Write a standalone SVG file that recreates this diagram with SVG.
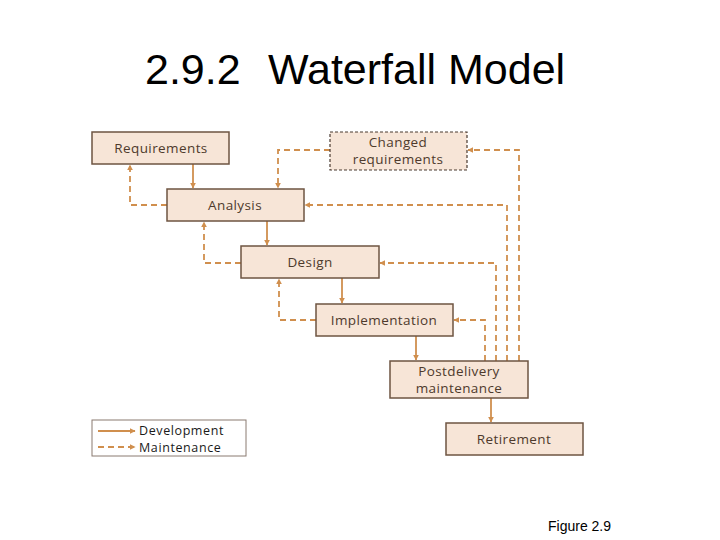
<svg xmlns="http://www.w3.org/2000/svg" width="720" height="540" viewBox="0 0 720 540">
<style>
.box{fill:#f7e5d7;stroke:#6e5442;stroke-width:1.5}
.dbox{fill:#f7e5d7;stroke:#4a3a30;stroke-width:1.2;stroke-dasharray:3 2}
.lbl{font-family:"Open Sans","Lato",sans-serif;font-size:13.5px;letter-spacing:0.4px;fill:#4e3a2c;text-anchor:middle}
.leg{font-family:"Open Sans","Lato",sans-serif;font-size:12.5px;letter-spacing:0.6px;fill:#1a1a1a}
.dev{fill:none;stroke:#d08f4e;stroke-width:1.8;marker-end:url(#ah)}
.mnt{fill:none;stroke:#d08f4e;stroke-width:1.8;stroke-dasharray:6 4;marker-end:url(#ah)}
</style>
<defs>
<marker id="ah" viewBox="0 0 10 10" refX="9" refY="5" markerWidth="6" markerHeight="6" markerUnits="userSpaceOnUse" orient="auto">
<path d="M0,0 L10,5 L0,10 z" fill="#d08f4e"/>
</marker>
</defs>
<rect width="720" height="540" fill="#fff"/>
<text x="145" y="84" font-family="Liberation Sans,Arial,sans-serif" font-size="43" fill="#000">2.9.2</text>
<text x="268" y="84" font-family="Liberation Sans,Arial,sans-serif" font-size="43" fill="#000">Waterfall Model</text>
<g id="connectors">
<path class="dev" d="M193,164 V188"/>
<path class="dev" d="M267,221 V245"/>
<path class="dev" d="M342,278 V303"/>
<path class="dev" d="M416,336 V360"/>
<path class="dev" d="M491,398 V422"/>
<path class="mnt" d="M167,205 H130 V165"/>
<path class="mnt" d="M241,263 H204 V222"/>
<path class="mnt" d="M316,320 H279 V279"/>
<path class="mnt" d="M330,150 H278 V188"/>
<path class="mnt" d="M485,361 V320 H454"/>
<path class="mnt" d="M496,361 V263 H380"/>
<path class="mnt" d="M507,361 V205 H305"/>
<path class="mnt" d="M519,361 V150 H468"/>
</g>
<g id="requirements"><rect class="box" x="92" y="132" width="137" height="32"/><text class="lbl" x="161" y="153">Requirements</text></g>
<g id="changed"><rect class="dbox" x="330" y="132" width="137" height="38"/><text class="lbl" x="398" y="147">Changed</text><text class="lbl" x="398" y="164">requirements</text></g>
<g id="analysis"><rect class="box" x="167" y="189" width="137" height="32"/><text class="lbl" x="235" y="210">Analysis</text></g>
<g id="design"><rect class="box" x="241" y="246" width="138" height="32"/><text class="lbl" x="310" y="267">Design</text></g>
<g id="implementation"><rect class="box" x="316" y="304" width="137" height="32"/><text class="lbl" x="384" y="325">Implementation</text></g>
<g id="postdelivery"><rect class="box" x="390" y="361" width="138" height="37"/><text class="lbl" x="459" y="376">Postdelivery</text><text class="lbl" x="459" y="393">maintenance</text></g>
<g id="retirement"><rect class="box" x="446" y="423" width="137" height="32"/><text class="lbl" x="514" y="444">Retirement</text></g>
<g id="legend">
<rect x="92" y="420" width="154" height="36" fill="#fff" stroke="#8a7a70" stroke-width="1"/>
<path class="dev" d="M98,431 H135"/>
<path class="mnt" d="M98,447 H135" stroke-dasharray="5 3"/>
<text class="leg" x="139" y="434.5">Development</text>
<text class="leg" x="139" y="451.5">Maintenance</text>
</g>
<text x="548" y="531" font-family="Liberation Sans,Arial,sans-serif" font-size="14" fill="#000">Figure 2.9</text>
</svg>
